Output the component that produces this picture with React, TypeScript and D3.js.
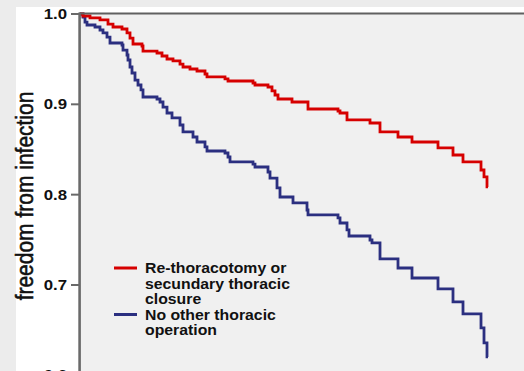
import * as d3 from 'd3';

// Kaplan-Meier style steps: [time (days), freedom from infection]
const reThoracotomy: [number, number][] = [
  [0, 1.0], [12, 0.9978], [40, 0.9956], [80, 0.9934], [112, 0.9889], [132, 0.9856],
  [168, 0.9834], [188, 0.979], [200, 0.9734], [212, 0.9668], [248, 0.9646], [252, 0.959],
  [308, 0.9568], [328, 0.9535], [348, 0.9502], [372, 0.948], [400, 0.9446], [412, 0.9413],
  [440, 0.9391], [468, 0.9369], [500, 0.9336], [508, 0.9303], [580, 0.9281], [592, 0.9258],
  [692, 0.9236], [700, 0.9214], [752, 0.9192], [768, 0.9148], [780, 0.9103], [792, 0.9059],
  [848, 0.9026], [912, 0.8948], [1032, 0.8926], [1040, 0.8904], [1068, 0.8827],
  [1160, 0.8793], [1200, 0.8694], [1272, 0.8638], [1328, 0.8583], [1432, 0.8517],
  [1492, 0.8439], [1532, 0.8362], [1604, 0.8273], [1616, 0.8196], [1628, 0.8085], [1632, 0.8085],
];

const noOtherOperation: [number, number][] = [
  [0, 1.0], [12, 0.9967], [20, 0.9911], [28, 0.9878], [60, 0.9856], [80, 0.9823], [92, 0.979],
  [108, 0.9745], [120, 0.9679], [168, 0.9657], [172, 0.9601], [188, 0.9546], [192, 0.9491],
  [200, 0.9413], [208, 0.9347], [220, 0.9269], [232, 0.9214], [244, 0.9159], [252, 0.9081],
  [308, 0.9059], [320, 0.9026], [332, 0.897], [348, 0.8904], [368, 0.8849], [400, 0.8771],
  [412, 0.8694], [452, 0.8638], [468, 0.8583], [500, 0.8528], [508, 0.8483], [580, 0.8461],
  [592, 0.8417], [600, 0.8362], [692, 0.8339], [700, 0.8306], [752, 0.8251], [760, 0.8184],
  [788, 0.8074], [800, 0.7974], [852, 0.7908], [908, 0.783], [912, 0.7775], [1032, 0.7742],
  [1040, 0.7686], [1068, 0.7609], [1076, 0.7542], [1160, 0.7498], [1168, 0.7465],
  [1200, 0.7288], [1272, 0.7188], [1328, 0.7077], [1432, 0.6956], [1492, 0.6812],
  [1532, 0.6679], [1604, 0.6524], [1616, 0.6358], [1628, 0.6203], [1632, 0.6203],
];

const yTicks = [1.0, 0.9, 0.8, 0.7, 0.6];
const yTitle = 'freedom from infection';
const legendItems = [
  { lines: ['Re-thoracotomy or', 'secundary thoracic', 'closure'], color: '#d60000' },
  { lines: ['No other thoracic', 'operation'], color: '#2b2f80' },
];

const W = 524;
const H = 371;
const FONT = '"Liberation Sans", Arial, sans-serif';
const STRETCH = 1.15; // picture is slightly wider than tall

export default function App() {
  const x = d3.scaleLinear().domain([0, 1776]).range([80, 524]);
  const y = d3.scaleLinear().domain([0.6, 1.0]).range([375.3, 14]);

  const line = d3
    .line<[number, number]>()
    .x((d) => x(d[0]))
    .y((d) => y(d[1]))
    .curve(d3.curveStepAfter);

  const series = [
    { data: noOtherOperation, color: legendItems[1].color },
    { data: reThoracotomy, color: legendItems[0].color },
  ];

  const lineH = 15.5;
  let row = 0;

  return (
    <svg
      width={W}
      height={H}
      style={{ position: 'absolute', left: 0, top: 0, fontFamily: FONT }}
    >
      <rect width={W} height={H} fill="#ececec" />
      <rect x={16} y={7} width={W - 16} height={H - 7} fill="#ffffff" />
      <rect x={80} y={14} width={W - 80} height={H - 14} fill="#f0f0f0" />

      {series.map((s, i) => (
        <path
          key={i}
          d={line(s.data) ?? ''}
          fill="none"
          stroke={s.color}
          strokeWidth={2.8}
          strokeLinejoin="miter"
        />
      ))}

      {/* frame */}
      <line x1={79} x2={W} y1={13.5} y2={13.5} stroke="#606060" strokeWidth={2.2} />
      <line x1={79.6} x2={79.6} y1={12.5} y2={H} stroke="#6a6a6a" strokeWidth={2.6} />

      {yTicks.map((t) => (
        <g key={t}>
          <line x1={71} x2={79} y1={y(t)} y2={y(t)} stroke="#6a6a6a" strokeWidth={2} />
          <text
            transform={`translate(67,${y(t)}) scale(${STRETCH + 0.05},1)`}
            dy="0.36em"
            textAnchor="end"
            fontSize={14}
            fontWeight="bold"
            fill="#111"
          >
            {t.toFixed(1)}
          </text>
        </g>
      ))}

      <text
        transform={`translate(33,196) scale(${STRETCH},1) rotate(-90)`}
        textAnchor="middle"
        fontSize={21}
        fill="#111"
        stroke="#111"
        strokeWidth={0.5}
      >
        {yTitle}
      </text>

      {legendItems.map((item, i) => {
        const first = row;
        row += item.lines.length;
        const base = 273 + first * lineH;
        return (
          <g key={i}>
            <line
              x1={114}
              x2={137}
              y1={base - 5}
              y2={base - 5}
              stroke={item.color}
              strokeWidth={3}
            />
            {item.lines.map((l, j) => (
              <text
                key={j}
                transform={`translate(145,${base + j * lineH}) scale(${STRETCH - 0.02},1)`}
                fontSize={14}
                fontWeight="bold"
                fill="#111"
              >
                {l}
              </text>
            ))}
          </g>
        );
      })}
    </svg>
  );
}
